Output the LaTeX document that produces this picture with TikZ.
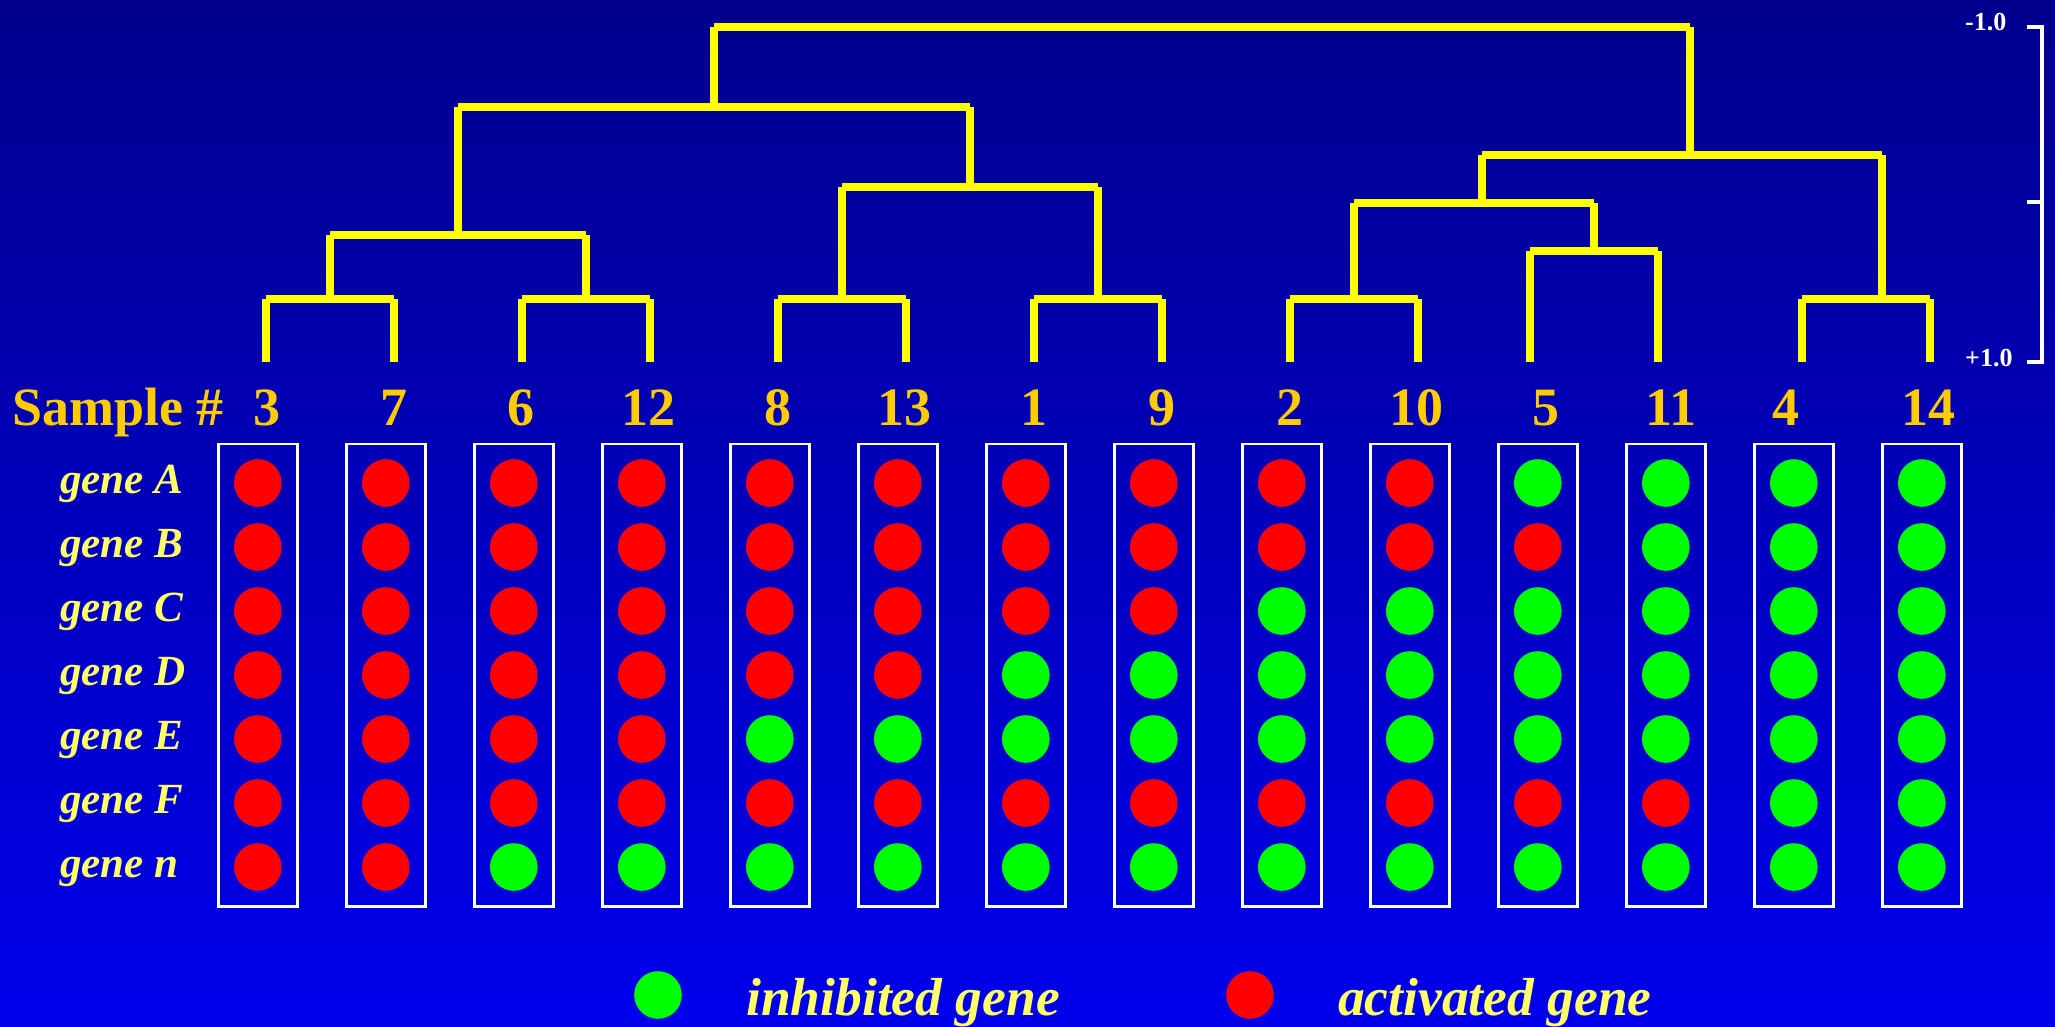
\documentclass[tikz,border=0pt]{standalone}
\usepackage{fontspec}
\setmainfont{Liberation Serif}
\definecolor{bgTop}{RGB}{0,0,140}
\definecolor{bgBot}{RGB}{0,0,236}
\definecolor{dendY}{RGB}{255,255,0}
\definecolor{numGold}{RGB}{255,204,0}
\definecolor{labY}{RGB}{255,255,102}
\definecolor{R}{RGB}{255,0,0}
\definecolor{G}{RGB}{0,255,0}
\newcommand\dmerge[3]{%
  \draw[dend] (#1) -- (#1 |- #3);
  \draw[dend] (#2) -- (#2 |- #3);
  \draw[dend] (#1 |- #3) -- (#2 |- #3);}
\begin{document}
\begin{tikzpicture}[x=1pt,y=1pt,
  dend/.style={draw=dendY,line width=8pt,line cap=butt},
  scl/.style={draw=white,line width=4pt},
  colbox/.style={draw=white,line width=2.4pt,minimum width=79pt,minimum height=462.6pt,inner sep=0pt},
  dot/.style={circle,inner sep=0pt,minimum size=47.6pt},
  num/.style={text=numGold,font=\fontsize{54}{60}\selectfont\bfseries,inner sep=0pt,anchor=base},
  gene/.style={text=labY,font=\fontsize{43}{50}\selectfont\bfseries\itshape,inner sep=0pt,anchor=base west},
  legtxt/.style={text=labY,font=\fontsize{53.5}{60}\selectfont\bfseries\itshape,inner sep=0pt,anchor=base west},
  scaletxt/.style={text=white,font=\fontsize{26}{30}\selectfont\bfseries,inner sep=0pt,anchor=base west}]
\useasboundingbox (0,0) rectangle (2055,-1027);
\shade[top color=bgTop,bottom color=bgBot] (0,0) rectangle (2055,-1027);

% scale bracket
\coordinate (sT) at (2041.7,-27);
\coordinate (sM) at (2041.7,-202);
\coordinate (sB) at (2041.7,-362);
\coordinate (sTe) at (2026.7,-27);
\coordinate (sMe) at (2026.7,-202);
\coordinate (sBe) at (2026.7,-362);
\draw[scl] (sTe) -- (sT) -- (sB) -- (sBe);
\draw[scl] (sM) -- (sMe);
\node[scaletxt] (sTl) at (1965,-31) {-1.0};
\node[scaletxt] (sBl) at (1965,-366) {+1.0};

% dendrogram
\foreach \n/\x in {3/266,7/394,6/522,12/650,8/778,13/906,1/1034,9/1162,2/1290,10/1418,5/1530,11/1658,4/1802,14/1930}
  \coordinate (leaf\n) at (\x,-362);
\coordinate (j37) at (330,-299);
\coordinate (j612) at (586,-299);
\coordinate (j813) at (842,-299);
\coordinate (j19) at (1098,-299);
\coordinate (j210) at (1354,-299);
\coordinate (j511) at (1594,-251);
\coordinate (j414) at (1882,-299);
\coordinate (jA) at (458,-235);
\coordinate (jB) at (970,-187);
\coordinate (jC) at (1482,-203);
\coordinate (jD) at (1690,-155);
\coordinate (jE) at (714,-107);
\coordinate (jT) at (1202,-27);
\dmerge{leaf3}{leaf7}{j37}
\dmerge{leaf6}{leaf12}{j612}
\dmerge{leaf8}{leaf13}{j813}
\dmerge{leaf1}{leaf9}{j19}
\dmerge{leaf2}{leaf10}{j210}
\dmerge{leaf5}{leaf11}{j511}
\dmerge{leaf4}{leaf14}{j414}
\dmerge{j37}{j612}{jA}
\dmerge{j813}{j19}{jB}
\dmerge{j210}{j511}{jC}
\dmerge{jA}{jB}{jE}
\dmerge{jC}{j414}{jD}
\dmerge{jE}{jD}{jT}

% labels
\node[num,anchor=base west] (samp) at (12,-425) {Sample \#};
\foreach \lbl [count=\r] in {A,B,C,D,E,F,n}{
  \pgfmathsetmacro\gy{-493-64*(\r-1)}
  \node[gene] (gl\r) at (60,\gy) {gene \lbl};
}

% columns
\foreach \num/\nx/\pA/\pB/\pC/\pD/\pE/\pF/\pN [count=\i] in {
  3/267/R/R/R/R/R/R/R,
  7/394/R/R/R/R/R/R/R,
  6/521/R/R/R/R/R/R/G,
  12/648/R/R/R/R/R/R/G,
  8/778/R/R/R/R/G/R/G,
  13/904/R/R/R/R/G/R/G,
  1/1034/R/R/R/G/G/R/G,
  9/1162/R/R/R/G/G/R/G,
  2/1290/R/R/G/G/G/R/G,
  10/1416/R/R/G/G/G/R/G,
  5/1546/G/R/G/G/G/R/G,
  11/1671/G/G/G/G/G/R/G,
  4/1786/G/G/G/G/G/G/G,
  14/1928/G/G/G/G/G/G/G}{
  \pgfmathsetmacro\bx{257.8+128*(\i-1)}
  \node[colbox] (box\num) at (\bx,-675) {};
  \node[num] (n\num) at (\nx,-425) {\num};
  \foreach \col [count=\r] in {\pA,\pB,\pC,\pD,\pE,\pF,\pN}{
    \pgfmathsetmacro\dy{-483-64*(\r-1)}
    \node[dot,fill=\col] (d\num-\r) at (\bx,\dy) {};
  }
}

% legend
\node[dot,fill=G] (legI) at (658,-995) {};
\node[legtxt] (legIt) at (746,-1015) {inhibited gene};
\node[dot,fill=R] (legA) at (1250,-995) {};
\node[legtxt] (legAt) at (1338,-1015) {activated gene};
\end{tikzpicture}
\end{document}
